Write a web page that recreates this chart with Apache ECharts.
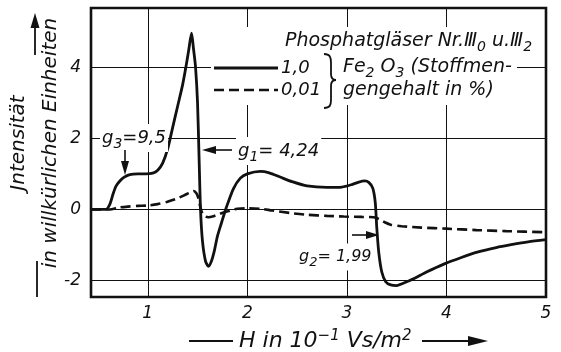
<!DOCTYPE html>
<html>
<head>
<meta charset="utf-8">
<script src="https://cdn.jsdelivr.net/npm/echarts@6/dist/echarts.min.js"></script>
<style>
  html, body { margin: 0; padding: 0; background: #fff; }
  #chart { width: 561px; height: 352px; }
</style>
</head>
<body>
<div id="chart"></div>
<script>
// Field strength H (10^-1 Vs/m^2) and intensity for 1,0 % Fe2O3
const fieldHigh = [0.43, 0.58, 0.62, 0.65, 0.68, 0.72, 0.76, 0.82, 0.90, 0.98, 1.05, 1.10, 1.15, 1.20, 1.25, 1.30, 1.35, 1.38, 1.41, 1.44, 1.46, 1.48, 1.50, 1.515, 1.53, 1.55, 1.58, 1.61, 1.64, 1.67, 1.70, 1.74, 1.79, 1.86, 1.93, 2.00, 2.13, 2.22, 2.33, 2.45, 2.60, 2.80, 2.95, 3.05, 3.12, 3.18, 3.22, 3.26, 3.285, 3.30, 3.32, 3.35, 3.39, 3.44, 3.50, 3.56, 3.67, 3.80, 3.98, 4.15, 4.31, 4.50, 4.65, 4.82, 5.00];
const intensityHigh = [0, 0, 0.15, 0.42, 0.65, 0.80, 0.90, 0.98, 1.00, 1.00, 1.02, 1.10, 1.30, 1.70, 2.30, 2.90, 3.50, 3.95, 4.45, 4.95, 4.50, 4.00, 3.00, 1.50, 0, -0.90, -1.45, -1.60, -1.45, -1.15, -0.75, -0.38, 0.06, 0.58, 0.88, 1.00, 1.07, 1.03, 0.91, 0.78, 0.66, 0.62, 0.63, 0.70, 0.77, 0.80, 0.76, 0.60, 0.20, -0.50, -1.20, -1.75, -2.03, -2.12, -2.14, -2.08, -1.95, -1.76, -1.53, -1.35, -1.20, -1.07, -0.99, -0.91, -0.85];

// Field strength H and intensity for 0,01 % Fe2O3
const fieldLow = [0.43, 0.62, 0.70, 0.80, 0.90, 1.00, 1.10, 1.19, 1.28, 1.36, 1.42, 1.46, 1.49, 1.51, 1.53, 1.55, 1.58, 1.61, 1.66, 1.71, 1.77, 1.83, 1.90, 2.00, 2.13, 2.25, 2.43, 2.60, 2.80, 2.97, 3.15, 3.27, 3.33, 3.38, 3.44, 3.55, 3.75, 4.00, 4.30, 4.60, 5.00];
const intensityLow = [0, 0, 0.05, 0.08, 0.10, 0.11, 0.15, 0.21, 0.29, 0.39, 0.47, 0.52, 0.45, 0.30, 0.05, -0.12, -0.20, -0.22, -0.19, -0.14, -0.08, -0.03, 0.02, 0.03, 0.02, -0.03, -0.10, -0.15, -0.18, -0.20, -0.21, -0.22, -0.28, -0.36, -0.43, -0.47, -0.51, -0.54, -0.58, -0.61, -0.64];

// Axis ticks
const xTicks = [1, 2, 3, 4, 5];
const yTicks = [-2, 0, 2, 4];

const INK = '#111';
const FONT = 'DejaVu Sans';

const zip = (xs, ys) => xs.map((x, i) => [x, ys[i]]);

const chart = echarts.init(document.getElementById('chart'), null, { renderer: 'canvas' });

// rich-text pieces: {s|..} subscript, {u|..} superscript
const smallFont = (size, padding) => ({
  fontSize: size, fontFamily: FONT, fontStyle: 'italic', fill: INK, padding
});

const txt = (x, y, text, opts = {}) => Object.assign({
  type: 'text', x, y, z: 20,
  style: {
    text, fill: INK,
    fontSize: opts.size || 18, fontFamily: FONT, fontStyle: 'italic',
    align: opts.align || 'left', verticalAlign: 'middle',
    backgroundColor: opts.bg === false ? 'transparent' : '#fff',
    padding: opts.pad || [1, 2],
    rich: {
      s: smallFont(opts.sub || 14, [12, 0, 0, 0]),
      u: smallFont(opts.sub || 14, [0, 0, 9, 0])
    }
  }
}, opts.rot ? { rotation: opts.rot } : {});

const seg = (x1, y1, x2, y2, w, dash) => ({
  type: 'line', z: 20,
  shape: { x1, y1, x2, y2 },
  style: { stroke: INK, lineWidth: w || 1.6, lineDash: dash || null }
});

const curve = (x1, y1, cpx1, cpy1, cpx2, cpy2, x2, y2) => ({
  type: 'bezierCurve', z: 20,
  shape: { x1, y1, cpx1, cpy1, cpx2, cpy2, x2, y2 },
  style: { stroke: INK, lineWidth: 1.8, fill: null }
});

const head = (pts) => ({
  type: 'polygon', z: 20, shape: { points: pts }, style: { fill: INK }
});

const option = {
  backgroundColor: '#fff',
  animation: false,
  grid: {
    left: 91, right: 15, top: 8, bottom: 55,
    show: true, borderColor: INK, borderWidth: 2.6, backgroundColor: 'transparent'
  },
  xAxis: {
    type: 'value', min: 0.43, max: 5,
    axisLine: { show: false },
    axisTick: { show: false, customValues: xTicks },
    axisLabel: {
      customValues: xTicks, color: INK, fontFamily: FONT, fontStyle: 'italic',
      fontSize: 17, margin: 8
    },
    splitLine: { show: true, lineStyle: { color: INK, width: 1 } }
  },
  yAxis: {
    type: 'value', min: -2.46, max: 5.66,
    axisLine: { show: false },
    axisTick: { show: false, customValues: yTicks },
    axisLabel: {
      customValues: yTicks, color: INK, fontFamily: FONT, fontStyle: 'italic',
      fontSize: 17, margin: 10
    },
    splitLine: { show: true, lineStyle: { color: INK, width: 1 } }
  },
  series: [
    {
      name: '1,0', type: 'line', data: zip(fieldHigh, intensityHigh),
      showSymbol: false, smooth: 0.25, z: 3,
      lineStyle: { color: INK, width: 2.8 }
    },
    {
      name: '0,01', type: 'line', data: zip(fieldLow, intensityLow),
      showSymbol: false, smooth: 0.25, z: 3,
      lineStyle: { color: INK, width: 2.6, type: [10, 5] }
    }
  ],
  graphic: [
    // legend block
    { type: 'rect', z: 15, shape: { x: 211, y: 27, width: 306, height: 78 }, style: { fill: '#fff' } },
    txt(283, 41, 'Phosphatgläser Nr.Ⅲ{s|0} u.Ⅲ{s|2}', { size: 19 }),
    seg(214, 68, 278, 68, 2.8),
    seg(214, 90, 278, 90, 2.6, [10, 5]),
    txt(279, 68, '1,0', { size: 18, bg: false, pad: 0 }),
    txt(279, 90, '0,01', { size: 18, bg: false, pad: 0 }),
    // brace joining both legend rows
    curve(324, 54, 330, 54, 331, 57, 331, 63),
    seg(331, 63, 331, 74, 1.8),
    curve(331, 74, 331, 78, 333, 80, 336, 80),
    curve(336, 80, 333, 80, 331, 82, 331, 86),
    seg(331, 86, 331, 100, 1.8),
    curve(331, 100, 331, 105, 330, 108, 324, 108),
    txt(342, 67, 'Fe{s|2} O{s|3} (Stoffmen-', { size: 19, pad: [1, 1] }),
    txt(342, 90, 'gengehalt in %)', { size: 19, pad: [1, 1] }),

    // g-factor annotations
    txt(134, 138, 'g{s|3}=9,5', { size: 18, align: 'center' }),
    seg(125, 150, 125, 164, 1.6),
    head([[125, 175], [121, 161], [129, 161]]),
    txt(236, 151, 'g{s|1}= 4,24', { size: 18 }),
    seg(214, 150, 232, 150, 1.6),
    head([[202, 150], [216, 146], [216, 154]]),
    txt(297, 257, 'g{s|2}= 1,99', { size: 16, sub: 13 }),
    seg(352, 235, 368, 235, 1.6),
    head([[379, 235], [366, 231], [366, 239]]),

    // y-axis title
    txt(19, 143, 'Jntensität', { size: 20, align: 'center', rot: Math.PI / 2, bg: false }),
    txt(51, 143, 'in willkürlichen Einheiten', { size: 20, align: 'center', rot: Math.PI / 2, bg: false }),
    seg(35, 55, 35, 24, 1.8),
    head([[35, 13], [30.5, 28], [39.5, 28]]),
    seg(37, 261, 37, 297, 1.8),

    // x-axis title
    seg(189, 341, 233, 341, 1.8),
    txt(237, 341, 'H in 10{u|−1} Vs/m{u|2}', { size: 22, sub: 15, bg: false }),
    seg(422, 341, 472, 341, 1.8),
    head([[488, 341], [468, 336], [468, 346]])
  ]
};

chart.setOption(option);
</script>
</body>
</html>
